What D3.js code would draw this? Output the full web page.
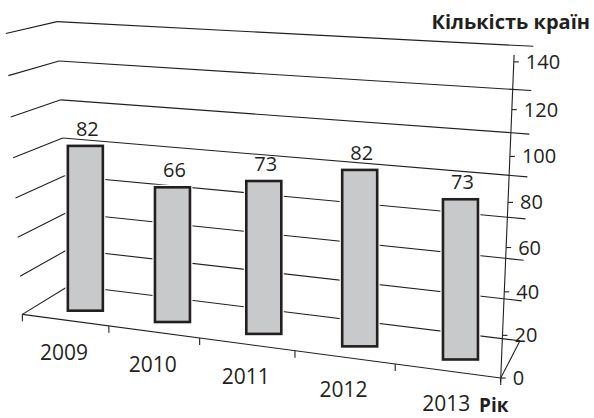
<!DOCTYPE html>
<html><head><meta charset="utf-8">
<script src="https://cdn.jsdelivr.net/npm/d3@7"></script>
<style>
body{margin:0;background:#fff}
svg{display:block}
text{font-family:'Open Sans',sans-serif;fill:#231f20}
</style>
</head><body>
<svg id="chart" width="594" height="418"></svg>
<script>
// ---- data ----
const years = ["2009","2010","2011","2012","2013"];
const counts = [82,66,73,82,73];
const valueTicks = [0,20,40,60,80,100,120,140];
const yTitle = "Кількість країн";
const xTitle = "Рік";

// ---- perspective camera (3x4 projection, normalised world coords) ----
const camera = [4.19904,-0.16806,0.52295,0.22359, 0.19560,-2.82672,-0.09764,3.14352, -0.11676,-0.05520,0.06785];

const xSlot = d3.scaleBand().domain(years).range([0,5]).padding(0);
const xWorld = d3.scaleLinear().domain([0,5]).range([0,1]);
const yWorld = d3.scaleLinear().domain([0,140]).range([0,1]);
const screen = d3.scaleLinear().domain([0,1]).range([0,100]);

function project(X,V,Z){
 const P=camera,u=xWorld(X),w=yWorld(V),z=Z;
 const d=P[8]*u+P[9]*w+P[10]*z+1;
 return [screen((P[0]*u+P[1]*w+P[2]*z+P[3])/d), screen((P[4]*u+P[5]*w+P[6]*z+P[7])/d)];
}

const svg = d3.select("#chart");
const ink = "#231f20";
const line = d3.line();
const g = svg.append("g");
const stroke = sel => sel.attr("stroke",ink).attr("stroke-width",1.1).attr("fill","none");

// back wall and left wall gridlines
valueTicks.forEach(v=>{
 g.append("path").attr("d",line([project(0,v,1),project(5,v,1)])).call(stroke);
 g.append("path").attr("d",line([project(0,v,0),project(0,v,1)])).call(stroke);
});
// floor edges
g.append("path").attr("d",line([project(0,0,0),project(5,0,0)])).call(stroke);
g.append("path").attr("d",line([project(5,0,0),project(5,0,1)])).call(stroke);
// category ticks
d3.range(0,6).forEach(k=>{const p=project(k,0,0);
 g.append("line").attr("x1",p[0]).attr("x2",p[0]).attr("y1",p[1]).attr("y2",p[1]+7).call(stroke);});
// value axis
{const a=project(5,0,0),b=project(5,140,0);const dx=b[0]-a[0],dy=b[1]-a[1],L=Math.hypot(dx,dy);
 g.append("line").attr("x1",a[0]-dx/L*4).attr("y1",a[1]-dy/L*4).attr("x2",b[0]+dx/L*7).attr("y2",b[1]+dy/L*7).call(stroke);
 valueTicks.forEach(v=>{const p=project(5,v,0);
  g.append("line").attr("x1",p[0]).attr("x2",p[0]+5).attr("y1",p[1]).attr("y2",p[1]).call(stroke);
  g.append("text").attr("x",p[0]+12).attr("y",p[1]+7).attr("font-size",20).text(v);});
}
// bars (flat front faces, screen-aligned)
const zb=0.3, bw=35, dxBar=6, hScale=1.015;
years.forEach((yr,i)=>{
 const c=xSlot(yr)+xSlot.bandwidth()/2;
 const b=project(c,0,zb);
 const h=(project(c,0,0)[1]-project(c,counts[i],0)[1])*hScale;
 const x0=b[0]+dxBar-bw/2, top=b[1]-h;
 g.append("rect").attr("x",x0).attr("y",top).attr("width",bw).attr("height",h).attr("fill","#c8c9cb").attr("stroke","#fff").attr("stroke-width",5);
 g.append("rect").attr("x",x0).attr("y",top).attr("width",bw).attr("height",h).attr("fill","#c8c9cb").attr("stroke",ink).attr("stroke-width",2.6);
 g.append("text").attr("x",x0+bw/2+2).attr("y",top-10).attr("text-anchor","middle").attr("font-size",20).text(counts[i]);
 const f=project(c,0,0);
 g.append("text").attr("x",f[0]-1).attr("y",f[1]+40).attr("text-anchor","middle").attr("font-size",21).text(yr);
});
svg.append("text").attr("x",590).attr("y",29).attr("text-anchor","end").attr("font-size",20).attr("font-weight","bold").text(yTitle);
svg.append("text").attr("x",479).attr("y",412).attr("font-size",19).attr("font-weight","bold").text(xTitle);
</script>
</body></html>
